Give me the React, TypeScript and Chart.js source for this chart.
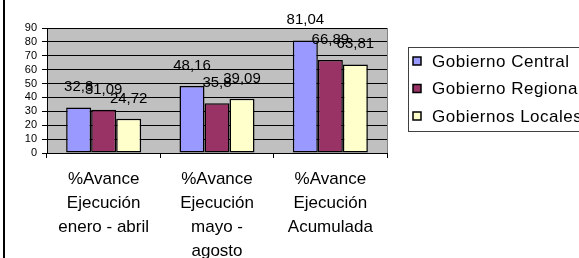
import React, { useEffect, useRef } from "react";
import { Chart, registerables } from "chart.js";

Chart.register(...registerables);

const categories: string[][] = [
  ["%Avance", "Ejecución", "enero - abril"],
  ["%Avance", "Ejecución", "mayo -", "agosto"],
  ["%Avance", "Ejecución", "Acumulada"],
];
const seriesNames = ["Gobierno Central", "Gobierno Regional", "Gobiernos Locales"];
const central = [32.8, 48.16, 81.04];
const regional = [31.09, 35.8, 66.89];
const locales = [24.72, 39.09, 63.81];
const seriesColors = ["#9999FF", "#993366", "#FFFFCC"];
const yMin = 0;
const yMax = 90;
const yStep = 10;

const FONT = "'Liberation Sans', Arial, sans-serif";

const decor = {
  id: "decor",
  beforeDraw(chart: any) {
    const { ctx, chartArea } = chart;
    ctx.save();
    ctx.fillStyle = "#FFFFFF";
    ctx.fillRect(0, 0, chart.width, chart.height);
    ctx.fillStyle = "#C0C0C0";
    ctx.fillRect(chartArea.left, chartArea.top, chartArea.right - chartArea.left, chartArea.bottom - chartArea.top);
    ctx.fillStyle = "#000000";
    ctx.fillRect(3, 0, 2, chart.height);
    ctx.restore();
  },
  afterDraw(chart: any) {
    const { ctx, chartArea } = chart;
    ctx.save();
    ctx.strokeStyle = "#808080";
    ctx.lineWidth = 1;
    ctx.beginPath();
    ctx.moveTo(Math.round(chartArea.right) + 0.5, chartArea.top);
    ctx.lineTo(Math.round(chartArea.right) + 0.5, chartArea.bottom);
    ctx.stroke();

    ctx.fillStyle = "#000000";
    ctx.font = `15px ${FONT}`;
    ctx.textAlign = "center";
    ctx.textBaseline = "alphabetic";
    chart.data.datasets.forEach((ds: any, di: number) => {
      const meta = chart.getDatasetMeta(di);
      meta.data.forEach((bar: any, i: number) => {
        const txt = String(ds.data[i]).replace(".", ",");
        ctx.fillText(txt, bar.x, bar.y - 16);
      });
    });

    const lx = 408.5, ly = 47.5, lw = 200, lh = 84;
    ctx.strokeStyle = "#404040";
    ctx.lineWidth = 1;
    ctx.strokeRect(lx, ly, lw, lh);
    ctx.font = `17px ${FONT}`;
    (ctx as any).letterSpacing = "0.5px";
    ctx.textAlign = "left";
    ctx.textBaseline = "middle";
    chart.data.datasets.forEach((ds: any, di: number) => {
      const cy = 61 + di * 27.5;
      ctx.fillStyle = ds.backgroundColor;
      ctx.fillRect(413, cy - 4, 8, 8);
      ctx.strokeStyle = "#000000";
      ctx.lineWidth = 1.5;
      ctx.strokeRect(413, cy - 4, 8, 8);
      ctx.fillStyle = "#000000";
      ctx.fillText(ds.label, 432, cy + 1);
    });
    (ctx as any).letterSpacing = "0px";
    ctx.restore();
  },
};

export default function App() {
  const ref = useRef<HTMLCanvasElement | null>(null);
  useEffect(() => {
    if (!ref.current) return;
    const values = [central, regional, locales];
    const chart = new Chart(ref.current, {
      type: "bar",
      data: {
        labels: categories,
        datasets: values.map((v, i) => ({
          label: seriesNames[i],
          data: v,
          backgroundColor: seriesColors[i],
          borderColor: "#000000",
          borderWidth: 1.5,
          borderSkipped: false,
          barPercentage: 1,
          categoryPercentage: 0.662,
        })),
      },
      options: {
        responsive: false,
        animation: false,
        layout: { padding: { left: 7, top: 28, right: 192, bottom: 0 } },
        plugins: {
          legend: { display: false },
          tooltip: { enabled: false },
        },
        scales: {
          x: {
            afterFit: (s: any) => {
              s.height = 105;
            },
            grid: {
              display: true,
              drawOnChartArea: false,
              drawTicks: true,
              tickLength: 5,
              color: "#000000",
              offset: true,
            },
            border: { display: true, color: "#000000", width: 1 },
            ticks: {
              color: "#000000",
              padding: 9,
              maxRotation: 0,
              autoSkip: false,
              font: { family: FONT, size: 17, lineHeight: 1.42 },
            },
          },
          y: {
            min: yMin,
            max: yMax,
            afterFit: (s: any) => {
              s.width = 40;
            },
            grid: {
              color: "#000000",
              lineWidth: 1,
              tickLength: 5,
            },
            border: { display: true, color: "#000000", width: 1 },
            ticks: {
              stepSize: yStep,
              autoSkip: false,
              color: "#000000",
              padding: 5,
              font: { family: FONT, size: 11 },
            },
          },
        },
      },
      plugins: [decor],
    });
    return () => chart.destroy();
  }, []);
  return (
    <div style={{ position: "fixed", left: 0, top: 0, width: 579, height: 258, background: "#fff" }}>
      <canvas ref={ref} width={579} height={258} style={{ display: "block", width: 579, height: 258 }} />
    </div>
  );
}
